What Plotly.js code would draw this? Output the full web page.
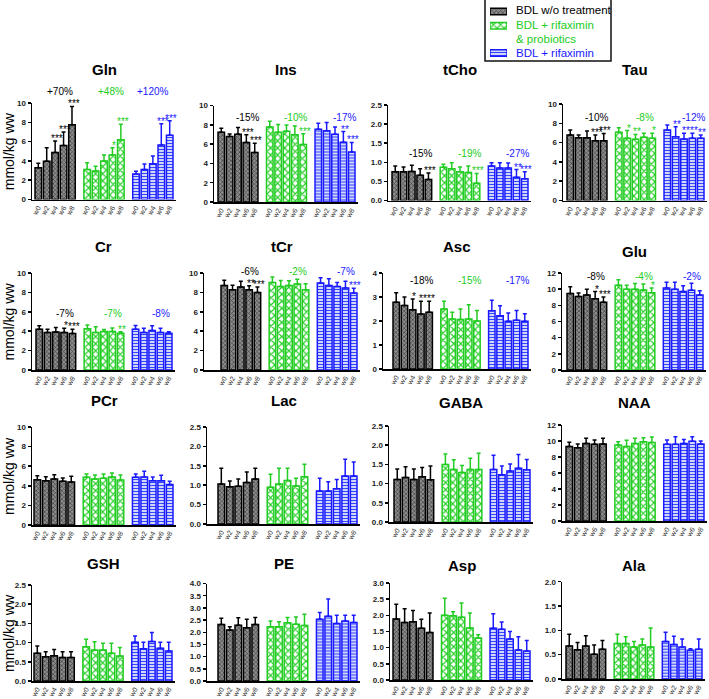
<!DOCTYPE html>
<html><head><meta charset="utf-8">
<script src="https://cdn.plot.ly/plotly-3.0.1.min.js"></script>
<style>html,body{margin:0;padding:0;background:#fff}#chart{width:709px;height:699px}</style>
</head><body><div id="chart"></div>
<script>
// ---------- DATA ----------
const weeks = ['w0','w2','w4','w6','w8'];
const groupNames = ['BDL w/o treatment','BDL + rifaximin|& probiotics','BDL + rifaximin'];
const yUnit = 'mmol/kg ww';

const Gln_mean = [[3.3,3.96,4.86,5.6,7.74],[3.12,2.95,4.0,4.6,6.2],[2.64,3.12,3.7,5.66,6.67]];
const Gln_err  = [[0.45,1.4,1.2,1.4,1.9],[0.7,0.5,0.6,0.75,1.6],[0.3,0.55,0.8,2.2,1.5]];
const Gln_stars= [['','','***','***','***'],['','','','*','***'],['','','','***','***']];
const Gln_pct  = ['+70%','+48%','+120%'];

const Ins_mean = [[7.24,6.8,7.03,6.17,5.14],[7.76,7.24,7.34,6.97,5.97],[7.55,7.38,7.03,6.2,5.17]];
const Ins_err  = [[0.4,0.25,0.7,0.8,0.95],[0.6,0.8,0.63,0.9,1.1],[0.6,0.85,0.73,1.1,1.0]];
const Ins_stars= [['','','','***','***'],['','','','','***'],['','','','**','***']];
const Ins_pct  = ['-15%','-10%','-17%'];

const tCho_mean = [[0.75,0.75,0.76,0.66,0.55],[0.87,0.83,0.75,0.73,0.45],[0.9,0.85,0.85,0.61,0.57]];
const tCho_err  = [[0.15,0.13,0.16,0.17,0.17],[0.08,0.16,0.13,0.17,0.26],[0.09,0.14,0.13,0.2,0.18]];
const tCho_stars= [['','','','','***'],['','','','','***'],['','','','**','***']];
const tCho_pct  = ['-15%','-19%','-27%'];

const Tau_mean = [[6.8,6.5,6.5,6.2,6.2],[7.07,6.45,6.35,6.55,6.45],[7.3,6.6,6.38,6.45,6.45]];
const Tau_err  = [[0.5,0.3,0.7,0.6,0.75],[0.48,0.8,0.5,0.42,0.52],[0.53,1.05,0.6,0.52,0.35]];
const Tau_stars= [['','','','***','***'],['','*','**','','*'],['','**','**','**','**']];
const Tau_pct  = ['-10%','-8%','-12%'];

const Cr_mean = [[4.2,3.86,3.93,3.86,3.76],[4.24,3.86,3.97,3.97,3.8],[4.2,3.86,4.07,3.86,3.8]];
const Cr_err  = [[0.35,0.35,0.45,0.45,0.45],[0.4,0.6,0.2,0.35,0.15],[0.4,0.45,0.5,0.45,0.15]];
const Cr_stars= [['','','','*','***'],['','','','','**'],['','','','','']];
const Cr_pct  = ['-7%','-7%','-8%'];

const tCr_mean = [[8.7,8.28,8.55,8.28,8.0],[9.03,8.62,8.7,8.86,8.28],[8.97,8.7,8.62,8.45,7.93]];
const tCr_err  = [[0.55,0.45,0.6,0.4,0.55],[0.55,0.6,0.5,0.5,0.6],[0.55,0.7,0.4,0.7,0.5]];
const tCr_stars= [['','','','**','***'],['','','','',''],['','','','','***']];
const tCr_pct  = ['-6%','-2%','-7%'];

const Asc_mean = [[2.78,2.65,2.47,2.29,2.36],[2.5,2.08,2.06,2.08,2.0],[2.43,2.22,1.99,2.03,1.99]];
const Asc_err  = [[0.4,0.35,0.45,0.53,0.46],[0.32,0.28,0.44,0.6,0.44],[0.43,0.42,0.34,0.41,0.31]];
const Asc_stars= [['','','*','**','**'],['','','','',''],['','','','','']];
const Asc_pct  = ['-18%','-15%','-17%'];

const Glu_mean = [[9.45,9.1,9.28,8.8,8.38],[10.5,10.0,10.0,9.9,9.57],[10.13,10.0,9.7,9.87,9.28]];
const Glu_err  = [[0.85,0.43,0.72,0.9,0.64],[0.65,0.5,0.7,0.74,0.56],[0.72,0.85,0.73,0.85,0.52]];
const Glu_stars= [['','','','*','***'],['','','','','*'],['','','','','']];
const Glu_pct  = ['-8%','-4%','-2%'];

const PCr_mean = [[4.63,4.52,4.7,4.46,4.39],[4.86,4.7,4.76,4.9,4.6],[4.86,4.9,4.52,4.52,4.12]];
const PCr_err  = [[0.4,0.4,0.44,0.34,0.58],[0.34,0.4,0.44,0.4,0.5],[0.34,0.58,0.38,0.55,0.34]];

const Lac_mean = [[1.03,0.96,0.97,1.07,1.16],[0.95,1.03,1.12,0.98,1.22],[0.85,0.85,0.91,1.24,1.24]];
const Lac_err  = [[0.41,0.15,0.19,0.27,0.28],[0.33,0.41,0.32,0.2,0.32],[0.33,0.24,0.24,0.43,0.36]];

const GABA_mean = [[1.11,1.16,1.11,1.18,1.1],[1.5,1.37,1.29,1.37,1.37],[1.37,1.23,1.33,1.4,1.36]];
const GABA_err  = [[0.27,0.28,0.27,0.24,0.36],[0.27,0.25,0.18,0.29,0.42],[0.37,0.23,0.18,0.36,0.27]];

const NAA_mean = [[9.3,9.17,9.7,9.58,9.63],[9.5,9.3,9.7,9.9,9.8],[9.58,9.58,9.7,9.96,9.63]];
const NAA_err  = [[0.53,0.46,0.63,0.54,0.7],[0.4,0.8,0.63,0.5,0.7],[0.54,0.96,0.5,0.58,0.37]];

const GSH_mean = [[0.72,0.63,0.66,0.61,0.61],[0.89,0.81,0.81,0.72,0.65],[1.01,0.84,1.03,0.85,0.78]];
const GSH_err  = [[0.19,0.13,0.16,0.15,0.15],[0.2,0.21,0.17,0.26,0.22],[0.16,0.17,0.23,0.16,0.23]];

const PE_mean = [[2.32,2.09,2.29,2.18,2.32],[2.23,2.23,2.39,2.33,2.28],[2.53,2.66,2.36,2.46,2.4]];
const PE_err  = [[0.25,0.14,0.3,0.35,0.29],[0.23,0.2,0.22,0.3,0.46],[0.28,0.7,0.34,0.24,0.3]];

const Asp_mean = [[1.89,1.78,1.8,1.6,1.47],[2.0,1.99,1.94,1.61,1.3],[1.6,1.57,1.27,0.93,0.9]];
const Asp_err  = [[0.45,0.42,0.35,0.28,0.6],[0.53,0.12,0.44,0.46,0.1],[0.45,0.22,0.23,0.41,0.32]];

const Ala_mean = [[0.68,0.6,0.68,0.51,0.61],[0.73,0.73,0.66,0.7,0.66],[0.77,0.71,0.66,0.59,0.61]];
const Ala_err  = [[0.24,0.15,0.21,0.19,0.18],[0.19,0.14,0.11,0.12,0.39],[0.19,0.17,0.16,0.03,0.21]];

// ---------- LAYOUT CONFIG ----------
const W = 709, H = 699;
const GAP = 5.8, BW = 0.78;
const colors = ['#000000', '#22cc22', '#1a1aff'];
const patterns = [
  {shape:'x', fgcolor:'#3c3c3c', bgcolor:'#8e8e8e', size:3, solidity:0.4, fillmode:'replace'},
  {shape:'x', fgcolor:'#22cc22', bgcolor:'#ffffff', size:5, solidity:0.4, fillmode:'replace'},
  {shape:'-', fgcolor:'#3344ff', bgcolor:'#d2d6f8', size:3, solidity:0.33, fillmode:'replace'}
];

const panels = [
  {t:'Gln', m:Gln_mean, e:Gln_err, s:Gln_stars, p:Gln_pct, pxi:[2.6,2.8,2.0], ymax:10, dt:2, ax:32, fl:35, lr:173, yt:103, yb:199.5, ty:69, py:91},
  {t:'Ins', m:Ins_mean, e:Ins_err, s:Ins_stars, p:Ins_pct, ymax:10, dt:2, ax:214, fl:218, lr:355, yt:105.5, yb:202, ty:69, py:117},
  {t:'tCho', m:tCho_mean, e:tCho_err, s:tCho_stars, p:tCho_pct, ymax:2.5, dt:0.5, ax:388, fl:392, lr:528, yt:105, yb:200.5, ty:69, py:154},
  {t:'Tau', m:Tau_mean, e:Tau_err, s:Tau_stars, p:Tau_pct, ymax:10, dt:2, ax:563, fl:567, lr:704, yt:104, yb:200.5, ty:69, py:117},
  {t:'Cr', m:Cr_mean, e:Cr_err, s:Cr_stars, p:Cr_pct, ymax:10, dt:2, ax:32, fl:36, lr:172, yt:273, yb:370, ty:247, py:313},
  {t:'tCr', m:tCr_mean, e:tCr_err, s:tCr_stars, p:tCr_pct, ymax:10, dt:2, ax:204, fl:221, lr:357, yt:273, yb:370, ty:247, py:271},
  {t:'Asc', m:Asc_mean, e:Asc_err, s:Asc_stars, p:Asc_pct, ymax:4, dt:1, ax:383, fl:393, lr:528, yt:273, yb:369, ty:247, py:280},
  {t:'Glu', m:Glu_mean, e:Glu_err, s:Glu_stars, p:Glu_pct, ymax:12, dt:2, ax:562, fl:567, lr:703, yt:273, yb:370, ty:252, py:277},
  {t:'PCr', m:PCr_mean, e:PCr_err, ymax:10, dt:2, ax:32, fl:34, lr:173, yt:427, yb:525, ty:400},
  {t:'Lac', m:Lac_mean, e:Lac_err, ymax:2.5, dt:0.5, ax:207, fl:218, lr:357, yt:427, yb:524, ty:400},
  {t:'GABA', m:GABA_mean, e:GABA_err, ymax:2.5, dt:0.5, ax:389, fl:394, lr:530, yt:426, yb:522, ty:402},
  {t:'NAA', m:NAA_mean, e:NAA_err, ymax:12, dt:2, ax:562, fl:566, lr:704, yt:425, yb:521, ty:402},
  {t:'GSH', m:GSH_mean, e:GSH_err, ymax:2.5, dt:0.5, ax:32, fl:34, lr:172, yt:585, yb:681, ty:563},
  {t:'PE', m:PE_mean, e:PE_err, ymax:4, dt:0.5, ax:207, fl:218, lr:357, yt:583.5, yb:681, ty:563},
  {t:'Asp', m:Asp_mean, e:Asp_err, ymax:3, dt:0.5, ax:390, fl:393, lr:530, yt:583, yb:680, ty:565},
  {t:'Ala', m:Ala_mean, e:Ala_err, ymax:2, dt:0.5, ax:562, fl:566, lr:702, yt:581.7, yb:679, ty:565}
];

const traces = [];
const annotations = [];
const shapes = [];
const layout = {
  width: W, height: H, margin:{l:0,r:0,t:0,b:0},
  paper_bgcolor:'#fff', plot_bgcolor:'rgba(0,0,0,0)',
  font:{family:'Arial, Liberation Sans, sans-serif', color:'#000'},
  bargap:0, barmode:'overlay',
  showlegend:false,
  annotations: annotations, shapes: shapes
};

const tickvals = [], ticktext = [];
for (let g=0; g<3; g++) for (let i=0; i<5; i++) { tickvals.push(g*GAP+i); ticktext.push(weeks[i]); }

panels.forEach((P, idx) => {
  const n = idx+1;
  const xs = n===1 ? 'x' : 'x'+n, ys = n===1 ? 'y' : 'y'+n;
  const k = (2*GAP+4+BW)/(P.lr-P.fl);
  const xr0 = -BW/2 - (P.fl-P.ax)*k;
  const xr1 = 2*GAP+4+BW/2 + 3*k;
  layout['xaxis'+(n===1?'':n)] = {
    domain:[P.ax/W, (P.lr+3)/W], range:[xr0,xr1], anchor:ys,
    showline:true, linecolor:'#000', linewidth:1.5, showgrid:false, zeroline:false,
    tickmode:'array', tickvals:tickvals, ticktext:ticktext, tickangle:-60,
    tickfont:{size:7, color:'#333'}, ticks:'', fixedrange:true
  };
  layout['yaxis'+(n===1?'':n)] = {
    domain:[1-P.yb/H, 1-P.yt/H], range:[0,P.ymax], anchor:xs, dtick:P.dt,
    tickformat: P.dt<1 ? '.1f' : 'd',
    showline:true, linecolor:'#000', linewidth:1.5, showgrid:false, zeroline:false,
    ticks:'outside', ticklen:3, tickwidth:1.5, tickcolor:'#000',
    tickfont:{size:8, weight:'bold', color:'#222'}, fixedrange:true
  };
  for (let g=0; g<3; g++) {
    traces.push({
      type:'bar', xaxis:xs, yaxis:ys,
      x: weeks.map((w,i)=>g*GAP+i), y: P.m[g], width: BW,
      name: groupNames[g], showlegend:false,
      marker:{color:patterns[g].bgcolor, line:{color:colors[g], width:1.5}, pattern:patterns[g]},
      error_y:{type:'data', symmetric:false, array:P.e[g], arrayminus:P.e[g].map(()=>0),
               color:colors[g], thickness:1.5, width:2},
      hoverinfo:'skip'
    });
    if (P.s) {
      P.s[g].forEach((st,i)=>{
        if (!st) return;
        annotations.push({xref:xs, yref:ys, x:g*GAP+i+0.2, y:P.m[g][i]+P.e[g][i], text:st,
          showarrow:false, yanchor:'bottom', yshift:-5, font:{size:10, color:colors[g]}});
      });
    }
    if (P.p) {
      const xi = P.pxi ? P.pxi[g] : 3.1;
      annotations.push({xref:xs, yref:'paper', x:g*GAP+xi, y:1-P.py/H, text:P.p[g],
        showarrow:false, yanchor:'middle', font:{size:10, color:colors[g]}});
    }
  }
  annotations.push({xref:'paper', yref:'paper', x:((P.ax+P.lr+3)/2)/W, y:1-P.ty/H, text:'<b>'+P.t+'</b>',
    showarrow:false, xanchor:'center', yanchor:'middle', font:{size:15}});
  if (idx % 4 === 0) {
    annotations.push({xref:'paper', yref:'paper', x:9/W, y:1-((P.yt+P.yb)/2)/H, text:yUnit,
      textangle:-90, showarrow:false, xanchor:'center', yanchor:'middle', font:{size:14}});
  }
});

// ---------- manual legend ----------
const LX0 = 485, LX1 = 611, LY1 = 61;
shapes.push({type:'rect', xref:'paper', yref:'paper', x0:LX0/W, x1:LX1/W, y0:1-LY1/H, y1:1+3/H,
  line:{color:'#111', width:1.5}, fillcolor:'#fff', layer:'below'});
layout.xaxis17 = {domain:[490/W, 507/W], range:[0,1], anchor:'y17', visible:false, fixedrange:true};
layout.yaxis17 = {domain:[1-LY1/H, 1], range:[LY1,0], anchor:'x17', visible:false, fixedrange:true};
const swatchY = [11.5, 25.8, 53];
const textLines = [[10],[25.5,39.5],[53]];
for (let g=0; g<3; g++) {
  traces.push({type:'bar', orientation:'h', xaxis:'x17', yaxis:'y17', x:[1], y:[swatchY[g]], base:0, width:6.5,
    showlegend:false, hoverinfo:'skip',
    marker:{color:patterns[g].bgcolor, line:{color:colors[g], width:1.5}, pattern:patterns[g]}});
  groupNames[g].split('|').forEach((line, j)=>{
    annotations.push({xref:'paper', yref:'paper', x:514/W, y:1-textLines[g][j]/H, text:line,
      showarrow:false, xanchor:'left', yanchor:'middle', font:{size:11.5, color:colors[g]}});
  });
}

Plotly.newPlot('chart', traces, layout, {displayModeBar:false, staticPlot:true});
</script>
</body></html>
